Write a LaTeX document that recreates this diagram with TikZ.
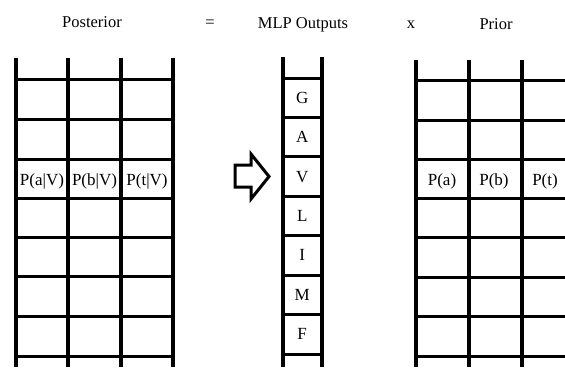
\documentclass[tikz,border=0pt]{standalone}
\usepackage{fontspec}
\setmainfont{Liberation Serif}
\begin{document}
\begin{tikzpicture}[x=1pt,y=-1pt,
  vline/.style={line width=3.6pt,line cap=butt},
  hline/.style={line width=3pt,line cap=butt},
  title/.style={font=\fontsize{16.5}{18}\selectfont,anchor=base,inner sep=0pt},
  cell/.style={font=\fontsize{17}{19}\selectfont,anchor=base,inner sep=0pt},
  blockarrow/.style={line width=3pt,line join=miter}]
\useasboundingbox (0,0) rectangle (565,367);
\fill[white] (0,0) rectangle (565,367);
% titles
\node[title] (tpost) at (92,27) {Posterior};
\node[title] (teq) at (210,27) {=};
\node[title] (tmlp) at (303,28) {MLP Outputs};
\node[title] (tx) at (411,28.5) {x};
\node[title] (tprior) at (496,29) {Prior};
% left grid
\foreach \x in {16,68,121,173} \draw[vline] (\x,58) -- (\x,367);
\foreach \y in {79.3,119,159,198,237.7,276.7,316.7,356} \draw[hline] (16,\y) -- (173,\y);
\node[cell] (pav) at (42,185.5) {P(a|V)};
\node[cell] (pbv) at (94.5,185.5) {P(b|V)};
\node[cell] (ptv) at (147,185.5) {P(t|V)};
% middle column
\foreach \x in {282.7,321.7} \draw[vline] (\x,57) -- (\x,367);
\foreach \y in {78.3,117.7,156.7,196.7,235.7,275,314.3,354} \draw[hline] (282.7,\y) -- (321.7,\y);
\node[cell] (lg) at (302.2,103.5) {G};
\node[cell] (la) at (302.2,142.7) {A};
\node[cell] (lv) at (302.2,182.2) {V};
\node[cell] (ll) at (302.2,221.7) {L};
\node[cell] (li) at (302.2,260.9) {I};
\node[cell] (lm) at (302.2,300.2) {M};
\node[cell] (lf) at (302.2,339.7) {F};
% block arrow
\draw[blockarrow] (235,165) -- (251,165) -- (251,154) -- (269,176.5) -- (251,199) -- (251,187) -- (235,187) -- cycle;
% right grid
\foreach \x in {416,469,521.7} \draw[vline] (\x,60) -- (\x,367);
\foreach \y in {80.7,120,159,198,237.7,277,316.7,356} \draw[hline] (416,\y) -- (565,\y);
\node[cell] (pa) at (442,185.5) {P(a)};
\node[cell] (pb) at (494,185.5) {P(b)};
\node[cell] (pt) at (545,185.5) {P(t)};
\end{tikzpicture}
\end{document}
